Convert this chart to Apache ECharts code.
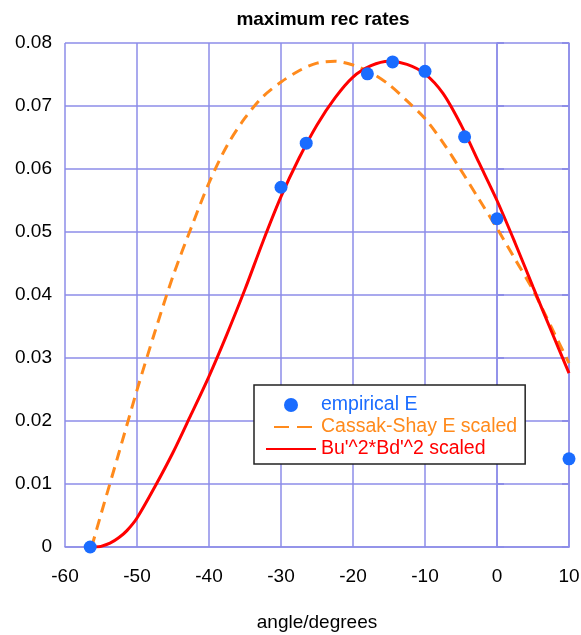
<!DOCTYPE html>
<html>
<head>
<meta charset="utf-8">
<script src="https://cdn.jsdelivr.net/npm/echarts@6/dist/echarts.min.js"></script>
<style>
html,body{margin:0;padding:0;background:#fff;}
#chart{width:581px;height:635px;}
</style>
</head>
<body>
<div id="chart"></div>
<script>
// ---- data ----
const empiricalX = [-56.5, -30, -26.5, -18, -14.5, -10, -4.5, 0, 10];
const empiricalY = [0, 0.0571, 0.0641, 0.0751, 0.0770, 0.0755, 0.0651, 0.0521, 0.0140];

const cassakX = [-56.3, -55, -52.5, -50, -47.5, -45, -42.5, -40, -37.5, -35, -32.5, -30, -27.5, -25, -22.5, -20, -17.5, -15, -12.5, -10, -7.5, -5, -2.5, 0, 2.5, 5, 7.5, 10];
const cassakY = [0, 0.0052, 0.0150, 0.0249, 0.0342, 0.0430, 0.0506, 0.0578, 0.0637, 0.0681, 0.0715, 0.0738, 0.0756, 0.0768, 0.0771, 0.0765, 0.0753, 0.0734, 0.0708, 0.0680, 0.0642, 0.0598, 0.0552, 0.0506, 0.0457, 0.0408, 0.0350, 0.0292];

const buX = [-55.8, -55, -53.75, -52.5, -51.4, -50, -47.5, -45, -42.5, -40, -37.5, -35, -32.5, -30, -27.5, -25, -22.5, -20, -17.5, -15, -12.5, -10, -7.5, -5, -2.5, 0, 2.5, 5, 7.5, 10];
const buY = [0, 0.0001, 0.0006, 0.0015, 0.0026, 0.0046, 0.0096, 0.0150, 0.0210, 0.0271, 0.0338, 0.0409, 0.0485, 0.0556, 0.0617, 0.0670, 0.0713, 0.0746, 0.0764, 0.0771, 0.0766, 0.0751, 0.0720, 0.0670, 0.0610, 0.0550, 0.0483, 0.0413, 0.0344, 0.0276];

const seriesNames = ['empirical E', 'Cassak-Shay E scaled', "Bu'^2*Bd'^2 scaled"];
const titleText = 'maximum rec rates';
const xName = 'angle/degrees';

// ---- chart ----
const zip = (xs, ys) => xs.map((x, i) => [x, ys[i]]);
const gridColor = '#8d8de8';
const FONT = 'Liberation Sans, Arial, sans-serif';
const BLUE = '#1a6cff', ORANGE = '#ff8a1c', RED = '#ff0000';

const chart = echarts.init(document.getElementById('chart'), null, {renderer: 'canvas'});
chart.setOption({
  animation: false,
  backgroundColor: '#ffffff',
  title: {
    text: titleText, left: 318, top: 5, textAlign: 'center',
    textStyle: {fontFamily: FONT, fontSize: 19, fontWeight: 'bold', color: '#000'}
  },
  grid: {left: 65, right: 12, top: 43, bottom: 88, containLabel: false, outerBoundsMode: 'none'},
  legend: {
    orient: 'vertical', left: 254, top: 385,
    padding: [10, 8, 5, 11],
    itemWidth: 50, itemHeight: 14, itemGap: 2,
    borderColor: '#222', borderWidth: 1.5, backgroundColor: '#fff',
    textStyle: {fontFamily: FONT, fontSize: 19.5},
    data: [
      {name: seriesNames[0], textStyle: {color: BLUE}},
      {name: seriesNames[1], textStyle: {color: ORANGE}, itemStyle: {opacity: 0},
        lineStyle: {type: [15, 8], dashOffset: 15}},
      {name: seriesNames[2], textStyle: {color: RED}, itemStyle: {opacity: 0}}
    ]
  },
  xAxis: {
    type: 'value', min: -60, max: 10, interval: 10,
    name: xName, nameLocation: 'middle', nameGap: 66,
    nameTextStyle: {fontFamily: FONT, fontSize: 19, color: '#000'},
    axisLine: {show: true, lineStyle: {color: gridColor, width: 1.5}},
    axisTick: {show: false},
    axisLabel: {fontFamily: FONT, fontSize: 19, color: '#000', margin: 20},
    splitLine: {show: true, lineStyle: {color: gridColor, width: 1.5}}
  },
  yAxis: [{
    type: 'value', min: 0, max: 0.08, interval: 0.01,
    axisLine: {show: true, lineStyle: {color: gridColor, width: 1.5}},
    axisTick: {show: true, inside: true, length: 7, lineStyle: {color: gridColor, width: 2}},
    axisLabel: {fontFamily: FONT, fontSize: 19, color: '#000', margin: 13,
      formatter: v => v === 0 ? '0' : v.toFixed(2)},
    splitLine: {show: true, lineStyle: {color: gridColor, width: 1.5}}
  }, {
    type: 'value', min: 0, max: 0.08, interval: 0.01, position: 'right',
    axisLine: {show: true, lineStyle: {color: gridColor, width: 1.5}},
    axisTick: {show: true, inside: true, length: 7, lineStyle: {color: gridColor, width: 2}},
    axisLabel: {show: false},
    splitLine: {show: false}
  }],
  series: [
    {
      name: seriesNames[1], type: 'line', data: zip(cassakX, cassakY),
      smooth: 0.3, symbol: 'none', z: 2,
      lineStyle: {color: ORANGE, width: 3, type: [11, 7]},
      itemStyle: {color: ORANGE}
    },
    {
      name: seriesNames[2], type: 'line', data: zip(buX, buY),
      smooth: 0.3, symbol: 'none', z: 3,
      lineStyle: {color: RED, width: 3},
      itemStyle: {color: RED}
    },
    {
      name: seriesNames[0], type: 'scatter', data: zip(empiricalX, empiricalY),
      symbol: 'circle', symbolSize: 13, clip: false, z: 5,
      itemStyle: {color: BLUE, opacity: 1}
    }
  ]
});
</script>
</body>
</html>
